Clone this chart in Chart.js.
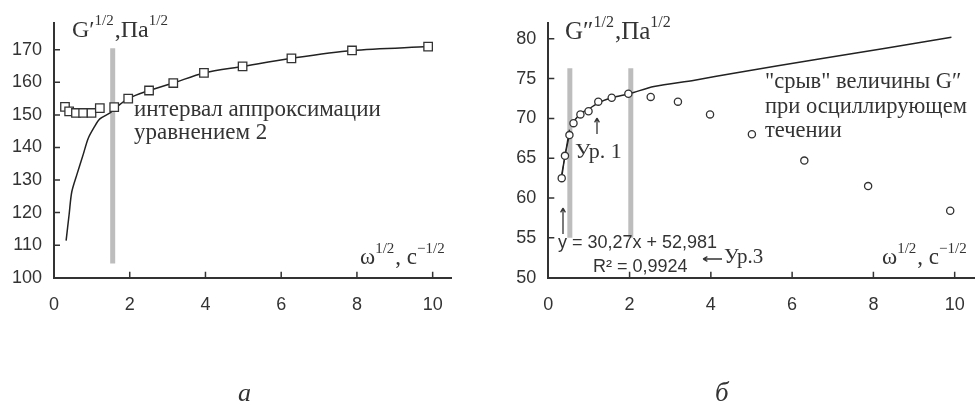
<!DOCTYPE html>
<html>
<head>
<meta charset="utf-8">
<script src="https://cdn.jsdelivr.net/npm/chart.js@4.4.1/dist/chart.umd.min.js"></script>
<style>
  html, body { margin: 0; padding: 0; background: #fff; }
  #wrap { position: relative; width: 975px; height: 403px; overflow: hidden; }
  canvas { position: absolute; top: 0; }
</style>
</head>
<body>
<div id="wrap">
  <canvas id="chartA" width="490" height="403" style="left:0"></canvas>
  <canvas id="chartB" width="500" height="403" style="left:490px"></canvas>
</div>
<script>
// --- dados ---
// (а) G'^1/2 : pontos experimentais
const aX = [0.29, 0.40, 0.58, 0.77, 0.99, 1.21, 1.59, 1.96, 2.51, 3.15, 3.96, 4.98, 6.27, 7.87, 9.88];
const aY = [152.5, 151.1, 150.6, 150.6, 150.6, 152.1, 152.4, 155.0, 157.5, 159.8, 162.9, 164.9, 167.4, 169.8, 171.0];
// (а) curva de ajuste (уравнение 2)
const aFitX = [0.32, 0.40, 0.47, 0.61, 0.77, 0.90, 1.05, 1.21, 1.48, 1.59, 1.96, 2.51, 3.15, 3.96, 4.98, 6.27, 7.87, 9.88];
const aFitY = [111.4, 119.5, 126.4, 131.9, 137.8, 142.7, 146.0, 148.8, 150.6, 151.8, 155.0, 157.5, 159.8, 162.9, 164.9, 167.4, 169.8, 171.0];
// (а) faixa cinza (intervalo)
const aBandX = [1.55];
const aBandY = [104.4, 170.5];

// (б) G''^1/2 : pontos experimentais
const bX = [0.33, 0.41, 0.52, 0.62, 0.79, 0.99, 1.23, 1.56, 1.97, 2.52, 3.19, 3.98, 5.01, 6.30, 7.87, 9.89];
const bY = [62.5, 65.3, 67.9, 69.4, 70.5, 70.9, 72.1, 72.6, 73.1, 72.7, 72.1, 70.5, 68.0, 64.7, 61.5, 58.4];
// (б) curva Ур. 1
const bFitX = [0.55, 0.80, 1.00, 1.25, 1.56, 2.00, 2.60, 3.60, 4.60, 6.70, 8.30, 9.92];
const bFitY = [69.2, 70.6, 71.2, 72.0, 72.6, 73.1, 74.0, 74.8, 75.7, 77.5, 78.8, 80.2];
// (б) reta de ajuste linear (Ур.3)
const bLinX = [0.33, 0.52];
const bLinY = [63.0, 68.6];
// (б) faixas cinzas
const bBandX = [0.53, 2.03];
const bBandY = [55.0, 76.3];

// rótulos dos eixos
const xTicks = { min: 0, max: 10.5, step: 2 };
const aTicksY = { min: 100, max: 178.3, step: 10 };
const bTicksY = { min: 50, max: 82, step: 5 };

const INK = '#333';
const SERIF = "'Liberation Serif', 'DejaVu Serif', serif";
const SANS = "'Liberation Sans', Arial, sans-serif";

const pts = (xs, ys) => xs.map((x, i) => ({ x, y: ys[i] }));

// texto com expoentes: partes [texto, sobrescrito?]
function supText(ctx, parts, x, y, size) {
  let cx = x;
  parts.forEach(([t, sup]) => {
    ctx.font = (sup ? Math.round(size * 0.64) : size) + 'px ' + SERIF;
    ctx.fillText(t, cx, sup ? y - size * 0.48 : y);
    cx += ctx.measureText(t).width + (sup ? 1 : 0);
  });
}

function arrow(ctx, x1, y1, x2, y2) {
  ctx.save();
  ctx.strokeStyle = INK;
  ctx.lineWidth = 1.3;
  ctx.beginPath();
  ctx.moveTo(x1, y1);
  ctx.lineTo(x2, y2);
  const ang = Math.atan2(y2 - y1, x2 - x1);
  ctx.moveTo(x2, y2);
  ctx.lineTo(x2 - 5 * Math.cos(ang - 0.5), y2 - 5 * Math.sin(ang - 0.5));
  ctx.moveTo(x2, y2);
  ctx.lineTo(x2 - 5 * Math.cos(ang + 0.5), y2 - 5 * Math.sin(ang + 0.5));
  ctx.stroke();
  ctx.restore();
}

// marcas de escala voltadas para dentro
const innerTicks = {
  id: 'innerTicks',
  afterDraw(chart) {
    const { ctx, scales: { x, y } } = chart;
    ctx.save();
    ctx.strokeStyle = INK;
    ctx.lineWidth = 1.5;
    ctx.beginPath();
    x.ticks.forEach((t, i) => {
      const px = x.getPixelForTick(i);
      if (t.value === 0) return;
      ctx.moveTo(px, y.bottom);
      ctx.lineTo(px, y.bottom - 6);
    });
    y.ticks.forEach((t, i) => {
      const py = y.getPixelForTick(i);
      if (t.value === y.min) return;
      ctx.moveTo(x.left, py);
      ctx.lineTo(x.left + 6, py);
    });
    ctx.stroke();
    ctx.restore();
  }
};

function makeOptions(yT, yWidth, padRight, padTop) {
  return {
    responsive: false,
    animation: false,
    devicePixelRatio: 1,
    layout: { padding: { top: padTop, right: padRight, left: 0, bottom: 0 } },
    plugins: { legend: { display: false }, tooltip: { enabled: false } },
    scales: {
      x: {
        type: 'linear', min: xTicks.min, max: xTicks.max,
        grid: { display: false, drawTicks: false },
        border: { color: INK, width: 2 },
        ticks: { stepSize: xTicks.step, includeBounds: false, padding: 17, color: INK, font: { family: SANS, size: 18 } },
        afterFit: s => { s.height = 125.3; }
      },
      y: {
        type: 'linear', min: yT.min, max: yT.max,
        grid: { display: false, drawTicks: false },
        border: { color: INK, width: 2 },
        ticks: { stepSize: yT.step, includeBounds: false, padding: 12, color: INK, font: { family: SANS, size: 18 } },
        afterFit: s => { s.width = yWidth; }
      }
    }
  };
}

const bandDs = (x, ys) => ({
  type: 'line', data: pts([x, x], ys), borderColor: '#bdbdbd', borderWidth: 5,
  borderCapStyle: 'butt', pointRadius: 0, order: 5
});

// --- gráfico а ---
new Chart(document.getElementById('chartA'), {
  type: 'scatter',
  data: {
    datasets: [
      { data: pts(aX, aY), pointStyle: 'rect', pointRadius: 6, backgroundColor: '#fff',
        borderColor: INK, borderWidth: 1.3, order: 1 },
      { type: 'line', data: pts(aFitX, aFitY), borderColor: '#222', borderWidth: 1.5,
        pointRadius: 0, tension: 0.3, order: 2 },
      bandDs(aBandX[0], aBandY)
    ]
  },
  options: makeOptions(aTicksY, 54, 38.4, 13),
  plugins: [innerTicks, {
    id: 'notesA',
    afterDraw(chart) {
      const ctx = chart.ctx;
      ctx.save();
      ctx.fillStyle = INK;
      ctx.textBaseline = 'alphabetic';
      supText(ctx, [['G′'], ['1/2', 1], [',Па'], ['1/2', 1]], 72, 37, 24);
      ctx.font = '23px ' + SERIF;
      ctx.fillText('интервал аппроксимации', 134, 116);
      ctx.fillText('уравнением 2', 134, 139);
      supText(ctx, [['ω'], ['1/2', 1], [', с'], ['−1/2', 1]], 360, 264, 23);
      ctx.font = 'italic 26px ' + SERIF;
      ctx.fillText('а', 238, 401);
      ctx.restore();
    }
  }]
});

// --- gráfico б ---
new Chart(document.getElementById('chartB'), {
  type: 'scatter',
  data: {
    datasets: [
      { data: pts(bX, bY), pointStyle: 'circle', pointRadius: 3.6, backgroundColor: '#fff',
        borderColor: INK, borderWidth: 1.3, order: 1 },
      { type: 'line', data: pts(bFitX, bFitY), borderColor: '#222', borderWidth: 1.5,
        pointRadius: 0, tension: 0.3, order: 2 },
      { type: 'line', data: pts(bX.slice(0, 3), bY.slice(0, 3)), borderColor: '#222', borderWidth: 1.2,
        pointRadius: 0, order: 2 },
      { type: 'line', data: pts(bLinX, bLinY), borderColor: '#222', borderWidth: 1.2,
        pointRadius: 0, order: 2 },
      bandDs(bBandX[0], bBandY),
      bandDs(bBandX[1], bBandY)
    ]
  },
  options: makeOptions(bTicksY, 58.3, 15, 15),
  plugins: [innerTicks, {
    id: 'notesB',
    afterDraw(chart) {
      const ctx = chart.ctx;
      const o = 490;
      ctx.save();
      ctx.fillStyle = INK;
      supText(ctx, [['G″'], ['1/2', 1], [',Па'], ['1/2', 1]], 565 - o, 39, 25);
      ctx.font = '22px ' + SERIF;
      ctx.fillText('Ур. 1', 575 - o, 158);
      arrow(ctx, 597 - o, 134, 597 - o, 118);
      arrow(ctx, 563 - o, 234, 563 - o, 208);
      ctx.font = '18px ' + SANS;
      ctx.fillText('y = 30,27x + 52,981', 558 - o, 248);
      ctx.fillText('R² = 0,9924', 593 - o, 272);
      arrow(ctx, 722 - o, 259, 703 - o, 259);
      ctx.font = '21px ' + SERIF;
      ctx.fillText('Ур.3', 724 - o, 263);
      ctx.font = '22.5px ' + SERIF;
      ctx.fillText('"срыв" величины G″', 765 - o, 88);
      ctx.fillText('при осциллирующем', 765 - o, 113);
      ctx.fillText('течении', 765 - o, 137);
      supText(ctx, [['ω'], ['1/2', 1], [', с'], ['−1/2', 1]], 882 - o, 264, 23);
      ctx.font = 'italic 27px ' + SERIF;
      ctx.fillText('б', 715 - o, 401);
      ctx.restore();
    }
  }]
});
</script>
</body>
</html>
